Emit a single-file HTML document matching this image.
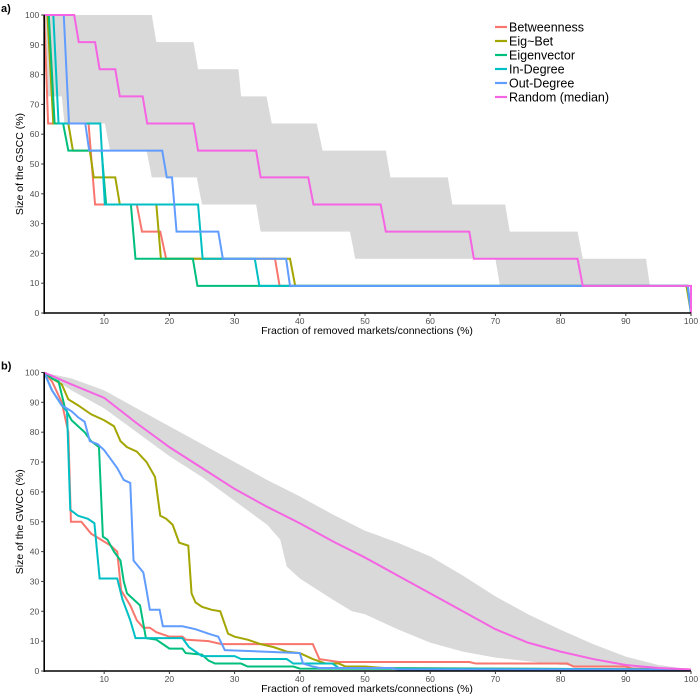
<!DOCTYPE html>
<html><head><meta charset="utf-8">
<style>
body{margin:0;background:#fff;}
svg{display:block;font-family:"Liberation Sans",Arial,sans-serif;}
</style></head>
<body>
<svg id="chart" width="700" height="695" viewBox="0 0 700 695" xmlns="http://www.w3.org/2000/svg"></svg>
<script>
// ---------- data ----------
const seriesNames = ["Betweenness","Eig~Bet","Eigenvector","In-Degree","Out-Degree","Random (median)"];
const xTicks = [10,20,30,40,50,60,70,80,90,100];
const yTicks = [0,10,20,30,40,50,60,70,80,90,100];

// panel a (GSCC)
const aBetweenness = [[0.8,100],[1.4,63.6],[7.6,63.6],[8.6,36.4],[15,36.4],[15.8,27.3],[18.6,27.3],[19.5,18.2],[36.2,18.2],[36.9,9.1],[99.5,9.1],[100,0]];
const aEigBet = [[0.8,100],[1.3,100],[2.2,63.6],[4.5,63.6],[5.2,54.5],[7.8,54.5],[8.4,45.5],[11.7,45.5],[12.4,36.4],[18,36.4],[18.7,18.2],[38.5,18.2],[39.3,9.1],[99.3,9.1],[100,0]];
const aEigenvector = [[0.8,100],[1.5,100],[2.4,63.6],[3.7,63.6],[4.5,54.5],[9.6,54.5],[10.3,36.4],[14.1,36.4],[14.8,18.2],[23.6,18.2],[24.3,9.1],[99.5,9.1],[100,0]];
const aInDegree = [[0.8,100],[2.2,100],[3,63.6],[9.4,63.6],[10.1,36.4],[24.4,36.4],[25.1,18.2],[33.1,18.2],[33.8,9.1],[99.5,9.1],[100,0]];
const aOutDegree = [[0.8,100],[3.8,100],[4.6,63.6],[7.1,63.6],[7.7,54.5],[18.9,54.5],[19.6,45.5],[20.4,45.5],[21.1,27.3],[27.5,27.3],[28.2,18.2],[37.9,18.2],[38.5,9.1],[99.5,9.1],[100,0]];
const aRandom = [[0.8,100],[5.4,100],[6.1,90.9],[8.6,90.9],[9.3,81.8],[11.7,81.8],[12.4,72.7],[15.9,72.7],[16.6,63.6],[23.7,63.6],[24.4,54.5],[33.3,54.5],[34,45.5],[41.3,45.5],[42.1,36.4],[52.4,36.4],[53.2,27.3],[66,27.3],[66.7,18.2],[82.6,18.2],[83.4,9.1],[100,9.1],[100,0]];
const aBandUpper = [[0.8,100],[17.3,100],[18,90.9],[23.7,90.9],[24.4,81.8],[30.6,81.8],[31,72.7],[34.9,72.7],[35.7,63.6],[42.6,63.6],[43.5,54.5],[53.2,54.5],[53.9,45.5],[62.7,45.5],[63.4,36.4],[71.5,36.4],[72.2,27.3],[82.6,27.3],[83.4,18.2],[93.1,18.2],[93.7,9.1],[100,9.1]];
const aBandLower = [[0.8,100],[1.2,72.7],[3.5,72.7],[3.9,63.6],[10.1,63.6],[10.9,54.5],[16.5,54.5],[17.3,45.5],[24.2,45.5],[25,36.4],[33.3,36.4],[34,27.3],[47.7,27.3],[48.5,18.2],[70,18.2],[70.7,9.1],[100,9.1]];

// panel b (GWCC)
const bBetweenness = [[0.8,100],[2,97],[3.5,90],[4.5,80],[4.9,50],[6.5,50],[8,46],[9.5,44],[11,42],[12,40],[12.6,27],[14,22],[15,17],[16,14.5],[17,14.5],[18,13],[20,11.5],[22,11.5],[22.5,10.5],[26,10],[28,9],[42,9],[43,4],[46,3],[66,3],[67,2.5],[81,2.5],[82,1.5],[90,1.5],[91,0.8],[100,0.5]];
const bEigBet = [[0.8,100],[2,98],[3.5,96],[4.5,91],[6,89],[8,86],[10,84],[11.5,82],[12.5,77],[13.5,75],[15,73.5],[16.5,70],[17.8,65],[18.6,52],[19.5,51],[20.5,49],[21.5,43],[22.9,42],[23.4,26],[24,23],[25,21.5],[26.5,20.5],[27.8,20],[29,12.5],[30,11.5],[32,10.5],[34,9],[36,8],[38,6.5],[40,6],[42,4],[44,2.5],[46,2.5],[47,1.5],[50,1.5],[53,1],[100,0.5]];
const bEigenvector = [[0.8,100],[2,98],[3,97],[4,88],[5,84],[7,80],[8,77],[9.2,75],[9.8,45],[10.5,44],[11.5,40],[12.5,37],[13,30],[13.5,26],[15.5,22],[16.4,11],[18,10.5],[19,9],[20,7.5],[22,7.5],[22.5,6],[25,5.5],[26,3.5],[27,2.5],[31,2.5],[32,1.5],[39,1.5],[40,0.8],[100,0.5]];
const bInDegree = [[0.8,100],[2,94],[3.5,89],[4.3,87],[4.8,54],[6,52],[7.5,51],[8.5,49.5],[9.3,31],[12,31],[12.8,24],[14,17],[14.8,11],[17,11],[22,11],[23,8],[25,5],[30,5],[31,4],[38,4],[39,2.5],[45,2.5],[46,1],[100,0.5]];
const bOutDegree = [[0.8,100],[2,94],[3.5,89],[5,87],[6,85],[7,83.5],[7.8,77],[9,76],[10,74],[11,71],[12,68],[13,64],[14,63],[14.5,37],[16,33],[16.5,27],[17,20.5],[18.5,20.5],[19,15],[22,15],[24,14],[26,12.5],[27.5,11.5],[28.5,7],[40,6],[40.5,2.5],[42,1.5],[43,1],[54,1],[55,0.5],[100,0.5]];
const bRandom = [[0.8,100],[5,96],[10,91.5],[15,83],[20,75],[25,68],[30,61],[35,55],[40,49.5],[45,43.5],[50,38],[55,32],[60,26],[65,20],[70,14],[75,9.5],[80,6.5],[85,4],[90,2],[95,1],[100,0.5]];
const bBandUpper = [[0.8,100],[5,98],[10,94],[15,88],[20,82],[25,76],[30,70],[35,64],[40,58.5],[45,52.5],[50,47],[55,43],[60,38.4],[65,32],[70,25],[75,19],[80,13.8],[85,9],[90,4.8],[95,2],[100,0.5]];
const bBandLower = [[0.8,100],[5,94],[10,88],[15,80],[20,72],[25,65],[30,57],[35,49],[37,44],[38,35],[40,31],[45,24],[48,20],[50,19],[55,14],[60,9.5],[65,6.5],[70,4.5],[80,2],[90,1],[100,0.3]];

const colors = ["#F8766D","#A3A500","#00BF7D","#00BFC4","#619CFF","#F564E3"];

// ---------- drawing ----------
const NS = "http://www.w3.org/2000/svg";
const svg = document.getElementById("chart");
function mk(tag, attrs, parent){ const e=document.createElementNS(NS,tag); for(const k in attrs) e.setAttribute(k,attrs[k]); (parent||svg).appendChild(e); return e; }

const X0 = 44.2, X1 = 691, XMIN = 0.8, XMAX = 100;
function xScale(v){ return X0 + (v-XMIN)/(XMAX-XMIN)*(X1-X0); }

function panel(key, top, bottom, label, ytitle, lines, upper, lower){
  const g = mk("g",{});
  
  
  const yScale = v => bottom - v/100*(bottom-top);
  // band
  const pts = upper.map(p=>xScale(p[0])+","+yScale(p[1])).concat(lower.slice().reverse().map(p=>xScale(p[0])+","+yScale(p[1])));
  const band = mk("polygon",{points:pts.join(" "),fill:"#d9d9d9",stroke:"none"},g);
  
  
  // lines
  lines.forEach((arr,i)=>{
    const pl = mk("polyline",{points:arr.map(p=>xScale(p[0])+","+yScale(p[1])).join(" "),fill:"none",stroke:colors[i],"stroke-width":2,"stroke-linejoin":"miter"},g);
    
    
  });
  // axes
  const ax = mk("g",{},g);
  
  
  mk("line",{x1:X0,y1:top,x2:X0,y2:bottom+1,stroke:"#000","stroke-width":1.6},ax);
  mk("line",{x1:X0,y1:bottom,x2:X1,y2:bottom,stroke:"#000","stroke-width":1.6},ax);
  yTicks.forEach(t=>{
    mk("line",{x1:X0-3,y1:yScale(t),x2:X0,y2:yScale(t),stroke:"#333","stroke-width":1},ax);
    const tx = mk("text",{x:X0-5,y:yScale(t)+3,"text-anchor":"end","font-size":8.5,fill:"#4d4d4d"},ax);
    tx.textContent = t;
    
    
  });
  xTicks.forEach(t=>{
    mk("line",{x1:xScale(t),y1:bottom,x2:xScale(t),y2:bottom+3,stroke:"#333","stroke-width":1},ax);
    const tx = mk("text",{x:xScale(t),y:bottom+11,"text-anchor":"middle","font-size":8.5,fill:"#4d4d4d"},ax);
    tx.textContent = t;
    
    
  });
  const xt = mk("text",{x:367,y:bottom+21,"text-anchor":"middle","font-size":10.5,fill:"#000"},g);
  xt.textContent = "Fraction of removed markets/connections (%)";
  
  
  const cy = (top+bottom)/2;
  const yt = mk("text",{x:23,y:cy,"text-anchor":"middle","font-size":10.5,fill:"#000",transform:"rotate(-90 23 "+cy+")"},g);
  yt.textContent = ytitle;
  
  
  const pl = mk("text",{x:1,y:top-3,"font-size":11,"font-weight":"bold",fill:"#000"},g);
  pl.textContent = label;
  
  
}

panel("a",15,313,"a)","Size of the GSCC (%)",[aBetweenness,aEigBet,aEigenvector,aInDegree,aOutDegree,aRandom],aBandUpper,aBandLower);
panel("b",372.5,671,"b)","Size of the GWCC (%)",[bBetweenness,bEigBet,bEigenvector,bInDegree,bOutDegree,bRandom],bBandUpper,bBandLower);

// legend
const lg = mk("g",{});


seriesNames.forEach((n,i)=>{
  const y = 27 + i*14;
  const e = mk("g",{},lg);
  
  
  mk("line",{x1:495,y1:y,x2:507,y2:y,stroke:colors[i],"stroke-width":2.2},e);
  const t = mk("text",{x:509,y:y+4.5,"font-size":12.5,fill:"#000"},e);
  t.textContent = n;
});
</script>
</body></html>
